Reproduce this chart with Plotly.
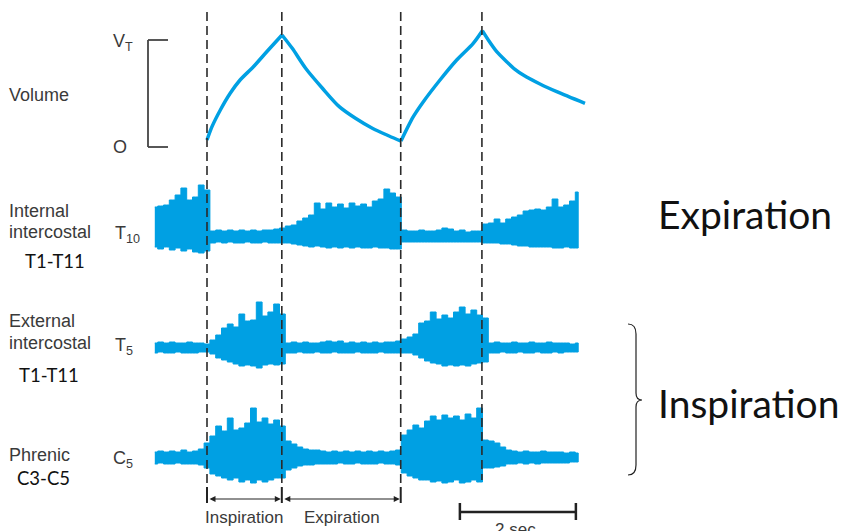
import numpy as np
import plotly.graph_objects as go

W, H = 846, 531          # window size
OX, OY = 8, 8            # page body margin of the browser
FW, FH = W - OX, H - OY  # figure size

# ---------------- data ----------------
# common time base for EMG envelopes (s)
t = np.round(-0.9 + 0.1 * np.arange(74), 2)

# lung volume (fraction of tidal volume VT)
vol_t = [0, 0.086, 0.23, 0.40, 0.57, 0.80, 1.03, 1.293,
         1.47, 1.70, 1.99, 2.28, 2.56, 2.85, 3.14, 3.345,
         3.557, 3.73, 4.017, 4.305, 4.59, 4.747,
         4.85, 4.995, 5.167, 5.31, 5.453, 5.741, 6.03, 6.517]
vol_v = [0.065, 0.19, 0.346, 0.502, 0.626, 0.75, 0.89, 1.047,
         0.922, 0.736, 0.549, 0.377, 0.268, 0.175, 0.103, 0.056,
         0.283, 0.423, 0.626, 0.813, 0.969, 1.087,
         1.0, 0.891, 0.797, 0.726, 0.673, 0.589, 0.517, 0.408]
vol_breaks = [0, 7, 15, 21, 29]   # indices of the phase turning points

# EMG envelopes (arbitrary units, upper and lower excursions from baseline)
iic_up = [30, 31, 32, 37, 42, 49, 37, 40, 52, 47,
          6, 7, 6, 7, 6, 7, 6, 7, 6, 7, 7, 8, 9,
          11, 12, 16, 19, 22, 34, 28, 34, 30, 33, 29, 34, 31, 33, 30, 36, 38, 48, 44, 40,
          7, 6, 6, 7, 6, 6, 7, 9, 8, 6, 7, 5, 6, 6,
          13, 14, 18, 14, 18, 20, 22, 26, 27, 28, 27, 30, 38, 30, 32, 36, 45]
iic_dn = [10, 12, 10, 13, 11, 14, 12, 15, 16, 14,
          6, 5, 6, 5, 6, 6, 5, 6, 6, 5, 6, 6, 6,
          6, 7, 8, 9, 10, 9, 10, 11, 10, 11, 10, 11, 10, 11, 11, 10, 11, 11, 12, 12,
          5, 5, 5, 5, 5, 5, 5, 5, 5, 5, 5, 5, 5, 5,
          6, 6, 6, 7, 7, 8, 9, 9, 10, 10, 10, 10, 11, 11, 10, 11, 11]
eic_up = [5, 6, 5, 6, 5, 5, 6, 5, 5, 4,
          8, 13, 20, 24, 21, 34, 27, 28, 46, 32, 36, 44, 34,
          5, 6, 5, 6, 5, 5, 6, 7, 6, 7, 5, 6, 5, 6, 5, 6, 5, 6, 6, 7,
          9, 11, 14, 25, 27, 36, 29, 33, 30, 36, 41, 34, 38, 33, 30,
          5, 6, 5, 5, 6, 5, 5, 6, 5, 5, 6, 5, 5, 5, 4, 5]
eic_dn = [5, 4, 5, 5, 4, 5, 5, 5, 4, 4,
          6, 10, 12, 14, 16, 18, 17, 18, 20, 17, 16, 17, 16,
          5, 5, 4, 5, 5, 4, 5, 5, 4, 5, 5, 5, 4, 5, 5, 5, 4, 5, 5, 5,
          5, 5, 7, 10, 13, 15, 16, 18, 17, 18, 17, 18, 16, 15, 14,
          5, 5, 4, 5, 5, 4, 5, 5, 4, 5, 5, 4, 5, 4, 4, 4]
phr_up = [6, 7, 6, 7, 6, 8, 6, 7, 9, 15,
          22, 32, 27, 40, 28, 30, 35, 50, 36, 40, 34, 38, 32,
          17, 14, 11, 9, 8, 8, 7, 6, 7, 6, 7, 6, 7, 6, 7, 6, 7, 6, 7, 8,
          23, 28, 33, 30, 37, 42, 38, 43, 40, 42, 38, 44, 40, 50,
          18, 17, 15, 11, 8, 7, 6, 7, 6, 6, 7, 6, 6, 6, 5, 6, 5]
phr_dn = [6, 5, 6, 6, 5, 6, 6, 6, 7, 10,
          16, 18, 20, 22, 20, 24, 22, 25, 22, 24, 22, 20, 20,
          12, 10, 8, 7, 7, 6, 6, 6, 6, 5, 6, 6, 5, 6, 6, 6, 5, 6, 6, 7,
          15, 18, 20, 22, 22, 24, 23, 25, 24, 22, 25, 24, 22, 24,
          10, 10, 9, 8, 6, 6, 5, 6, 5, 6, 5, 5, 5, 5, 5, 4, 4]

# phase boundaries (s): insp start, exp start, insp start, exp start
events = [0.0, 1.29, 3.34, 4.74]
scale_start, scale_len = 4.36, 2.0

# ---------------- style ----------------
BLUE = "#00A0E3"
DARK = "#3a3a3a"
ARIAL = "Liberation Sans, Arial, sans-serif"
CAL = "Lato, Carlito, sans-serif"


def px(x):
    return (x - OX) / FW


def py(y):
    return 1 - (y - OY) / FH


fig = go.Figure()

for i0, i1 in zip(vol_breaks[:-1], vol_breaks[1:]):
    fig.add_trace(go.Scatter(x=vol_t[i0:i1 + 1], y=vol_v[i0:i1 + 1], mode="lines", yaxis="y",
                             line=dict(color=BLUE, width=3.5, shape="spline", smoothing=0.8),
                             hoverinfo="skip"))


def emg(up, dn, axis):
    xs = list(t) + list(t[::-1])
    ys = list(up) + [-v for v in dn[::-1]]
    fig.add_trace(go.Scatter(x=xs, y=ys, mode="lines", fill="toself", fillcolor=BLUE,
                             line=dict(color=BLUE, width=1, shape="hvh"), yaxis=axis,
                             hoverinfo="skip"))


emg(iic_up, iic_dn, "y2")
emg(eic_up, eic_dn, "y3")
emg(phr_up, phr_dn, "y4")

shapes = []
# dashed phase lines
bottoms = [487, 487, 484, 480]
for e, b in zip(events, bottoms):
    shapes.append(dict(type="line", xref="x", yref="paper", x0=e, x1=e, y0=py(12), y1=py(b),
                       line=dict(color="#2a2a2a", width=1.6, dash="9px,5px")))
# bracket for volume
shapes.append(dict(type="line", xref="paper", yref="y", x0=px(148), x1=px(148), y0=0, y1=1,
                   line=dict(color="#444", width=1.8)))
for v in (0, 1):
    shapes.append(dict(type="line", xref="paper", yref="y", x0=px(148), x1=px(168), y0=v, y1=v,
                       line=dict(color="#444", width=1.8)))
# phase ticks at bottom
for e in events[:3]:
    shapes.append(dict(type="line", xref="x", yref="paper", x0=e, x1=e, y0=py(487), y1=py(503),
                       line=dict(color="#222", width=2)))
# 2 s scale bar
shapes.append(dict(type="line", xref="x", yref="paper", x0=scale_start, x1=scale_start + scale_len,
                   y0=py(512), y1=py(512), line=dict(color="#222", width=2.5)))
for e in (scale_start, scale_start + scale_len):
    shapes.append(dict(type="line", xref="x", yref="paper", x0=e, x1=e, y0=py(503), y1=py(520),
                       line=dict(color="#222", width=2.5)))
# brace
bp = [(628, 324), (636, 324), (636, 334), (636, 393), (636, 400), (642, 400), (636, 400),
      (636, 407), (636, 465), (636, 475), (628, 475)]
P = [(px(a), py(b)) for a, b in bp]
path = ("M {0[0]},{0[1]} Q {1[0]},{1[1]} {2[0]},{2[1]} L {3[0]},{3[1]} Q {4[0]},{4[1]} {5[0]},{5[1]} "
        "Q {6[0]},{6[1]} {7[0]},{7[1]} L {8[0]},{8[1]} Q {9[0]},{9[1]} {10[0]},{10[1]}").format(*P)
shapes.append(dict(type="path", xref="paper", yref="paper", path=path,
                   line=dict(color="#222", width=1.2)))

ann = []


def label(text, x, y, size=18, family=ARIAL, color=DARK, xanchor="left"):
    ann.append(dict(text=text, x=px(x), y=py(y), xref="paper", yref="paper", showarrow=False,
                    xanchor=xanchor, yanchor="middle", font=dict(size=size, family=family, color=color)))


label("Volume", 7, 95)
label("V<sub>T</sub>", 111, 43)
label("O", 111, 147)
label("Internal", 7, 211)
label("intercostal", 7, 232)
label("T1-T11", 23, 261, size=18.5, family=CAL, color="#111")
label("T<sub>10</sub>", 113, 235)
label("External", 7, 321)
label("intercostal", 7, 343)
label("T<sub>5</sub>", 113, 346)
label("T1-T11", 17, 375, size=18.5, family=CAL, color="#111")
label("Phrenic", 7, 455)
label("C3-C5", 15, 478, size=18.5, family=CAL, color="#111")
label("C<sub>5</sub>", 111, 459)
label("Expiration", 656, 214, size=39, family=CAL, color="#111")
label("Inspiration", 656, 403, size=39, family=CAL, color="#111")
label("Inspiration", 244, 517, size=17, xanchor="center")
label("Expiration", 342, 517, size=17, xanchor="center")
ann.append(dict(text="2 sec.", x=(scale_start + scale_len / 2), y=py(518), xref="x", yref="paper",
                showarrow=False, xanchor="center", yanchor="top",
                font=dict(size=17, family=ARIAL, color=DARK)))

# double-headed phase arrows
for a, b in ((events[0], events[1]), (events[1], events[2])):
    ann.append(dict(text="", x=b, y=-41, xref="x", yref="y4", ax=a, ay=-41, axref="x", ayref="y4",
                    showarrow=True, arrowhead=2, startarrowhead=2, arrowside="end+start",
                    arrowsize=1, arrowwidth=1.2, arrowcolor="#222", standoff=1, startstandoff=1))

fig.update_layout(
    width=FW, height=FH, margin=dict(l=0, r=0, t=0, b=0),
    paper_bgcolor="white", plot_bgcolor="white", showlegend=False,
    xaxis=dict(range=[(OX - 207) / 58, (W - 207) / 58], visible=False, fixedrange=True),
    yaxis=dict(range=[(147 - H) / 107, (147 - OY) / 107], visible=False),
    yaxis2=dict(range=[237 - H, 237 - OY], overlaying="y", visible=False),
    yaxis3=dict(range=[348 - H, 348 - OY], overlaying="y", visible=False),
    yaxis4=dict(range=[458 - H, 458 - OY], overlaying="y", visible=False),
    shapes=shapes, annotations=ann,
)

fig.write_html("out.html")
